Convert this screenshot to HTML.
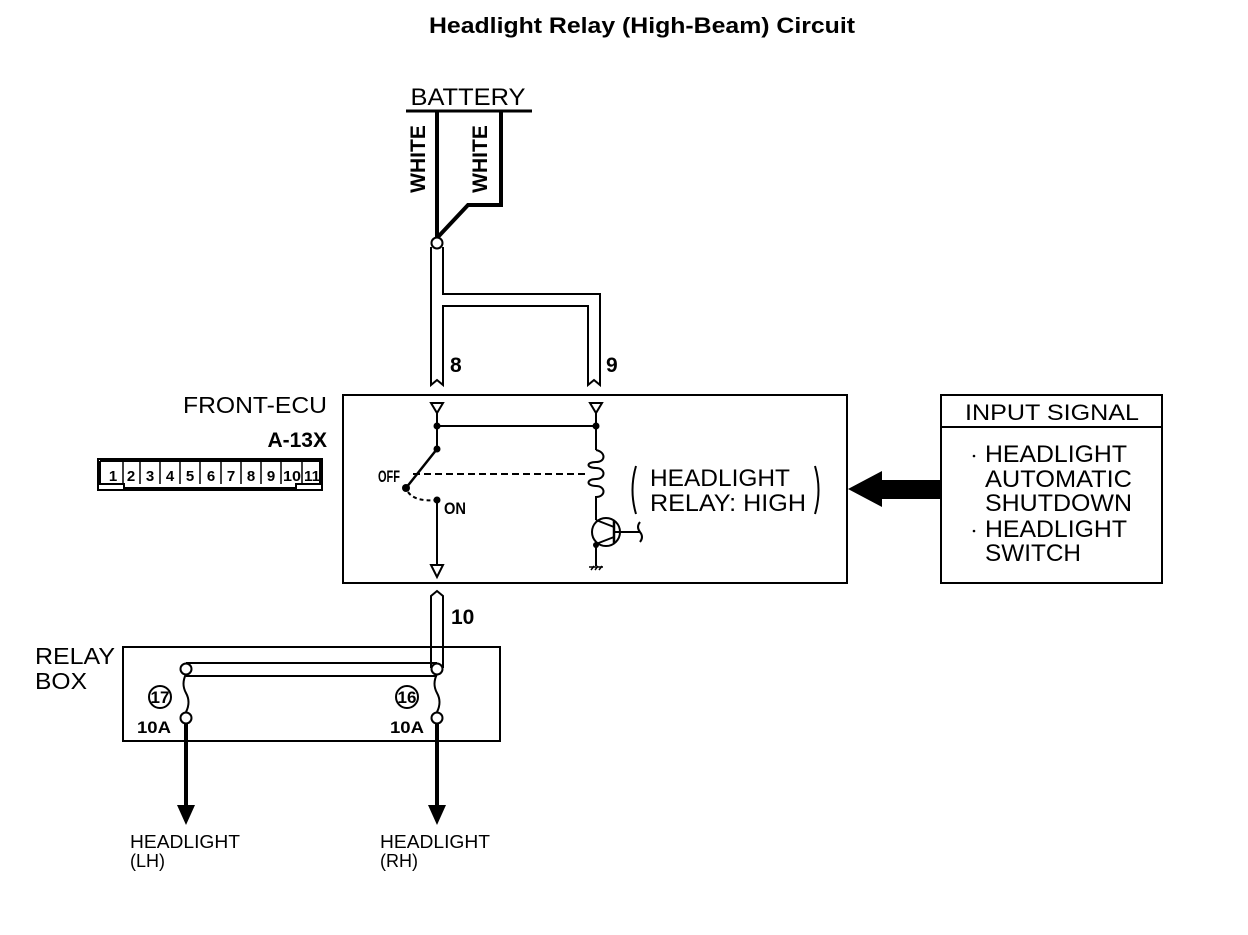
<!DOCTYPE html>
<html><head><style>
body{margin:0;background:#fff}
svg text{font-family:"Liberation Sans",sans-serif}
</style></head><body>
<svg width="1248" height="930" viewBox="0 0 1248 930" xmlns="http://www.w3.org/2000/svg">
<rect width="1248" height="930" fill="#fff"/>
<text x="642" y="33" text-anchor="middle" font-size="22" font-weight="bold" textLength="426" lengthAdjust="spacingAndGlyphs">Headlight Relay (High-Beam) Circuit</text>
<!-- battery -->
<text x="468" y="105" text-anchor="middle" font-size="24" textLength="115" lengthAdjust="spacingAndGlyphs">BATTERY</text>
<line x1="406" y1="111" x2="532" y2="111" stroke="#000" stroke-width="3"/>
<polyline points="437,111 437,240" fill="none" stroke="#000" stroke-width="4"/>
<polyline points="501,111 501,205 468,205 437,238" fill="none" stroke="#000" stroke-width="4"/>
<text transform="translate(425,159) rotate(-90)" text-anchor="middle" font-size="21" font-weight="bold">WHITE</text>
<text transform="translate(487,159) rotate(-90)" text-anchor="middle" font-size="21" font-weight="bold">WHITE</text>
<circle cx="437" cy="243" r="5.5" fill="#fff" stroke="#000" stroke-width="2"/>
<g fill="none" stroke="#000" stroke-width="2">
<polyline points="431,247 431,385 437,380 443,385 443,306 588,306 588,385 594,380 600,385 600,294 443,294 443,247"/>
<rect x="343" y="395" width="504" height="188"/>
<polygon points="431,403 443,403 437,413"/>
<polygon points="590,403 602,403 596,413"/>
<line x1="437" y1="413" x2="437" y2="449"/>
<line x1="596" y1="413" x2="596" y2="450"/>
<line x1="437" y1="426" x2="596" y2="426"/>
<line x1="437" y1="449" x2="406" y2="488" stroke-width="2.5"/>
<line x1="413" y1="474" x2="585" y2="474" stroke-dasharray="7,4"/>
<path d="M408,492 Q415,502 437,500" stroke-dasharray="4,3"/>
<line x1="437" y1="500" x2="437" y2="565"/>
<polygon points="431,565 443,565 437,577"/>
<path d="M596,450 C606,452 606,462 596,462 C586,462 586,468 596,468 C606,468 606,479 596,479 C586,479 586,486 596,486 C606,486 606,497 596,497 L596,520"/>
<circle cx="606" cy="532" r="14"/>
<line x1="614" y1="521" x2="614" y2="543" stroke-width="2.5"/>
<line x1="596" y1="520" x2="614" y2="527"/>
<line x1="614" y1="537" x2="596" y2="544"/>
<line x1="596" y1="544" x2="596" y2="566"/>
<line x1="614" y1="532" x2="640" y2="532"/>
<path d="M640,522 Q636,527 640,532 Q644,537 640,542"/>
<path d="M636,466 Q629,490 636,514"/>
<path d="M815,466 Q822,490 815,514"/>
<rect x="941" y="395" width="221" height="188"/>
<line x1="941" y1="427" x2="1162" y2="427"/>
<polyline points="431,668 431,596 437,591 443,596 443,668"/>
<rect x="123" y="647" width="377" height="94"/>
<line x1="186" y1="663" x2="437" y2="663"/>
<line x1="186" y1="676" x2="437" y2="676"/>
<path d="M186,674 Q181,684 186,693 Q191,702 186,712"/>
<path d="M437,674 Q432,684 437,693 Q442,702 437,712"/>
<circle cx="160" cy="697" r="11"/>
<circle cx="407" cy="697" r="11"/>
<rect x="98" y="459" width="224" height="31"/>
<polyline points="100,461 100,484 124,484 124,488 296,488 296,484 320,484 320,461 100,461"/>
</g>
<g fill="#fff" stroke="#000" stroke-width="2">
<circle cx="186" cy="669" r="5.5"/><circle cx="437" cy="669" r="5.5"/>
<circle cx="186" cy="718" r="5.5"/><circle cx="437" cy="718" r="5.5"/>
</g>
<g fill="#000">
<circle cx="437" cy="426" r="3.5"/><circle cx="596" cy="426" r="3.5"/>
<circle cx="437" cy="449" r="3.5"/><circle cx="406" cy="488" r="4"/>
<circle cx="437" cy="500" r="3.5"/><circle cx="596" cy="545" r="3"/>
<polygon points="848,489 882,471 882,480 940,480 940,499 882,499 882,507"/>
<rect x="184" y="723" width="4" height="85"/>
<polygon points="177,805 195,805 186,825"/>
<rect x="435" y="723" width="4" height="85"/>
<polygon points="428,805 446,805 437,825"/>
</g>
<g stroke="#000" stroke-width="1.5"><line x1="589" y1="567" x2="603" y2="567"/><line x1="591" y1="570" x2="594" y2="566"/><line x1="595" y1="570" x2="598" y2="566"/><line x1="599" y1="570" x2="602" y2="566"/></g>
<g font-size="17" font-weight="bold">
<text x="378" y="482" textLength="22" lengthAdjust="spacingAndGlyphs">OFF</text><text x="444" y="514" textLength="22" lengthAdjust="spacingAndGlyphs">ON</text>
<text x="450" y="372" font-size="21">8</text><text x="606" y="372" font-size="21">9</text>
<text x="451" y="624" font-size="21">10</text>
<text x="137" y="733" textLength="34" lengthAdjust="spacingAndGlyphs">10A</text><text x="390" y="733" textLength="34" lengthAdjust="spacingAndGlyphs">10A</text>
<text x="160" y="703" text-anchor="middle">17</text><text x="407" y="703" text-anchor="middle">16</text>
</g>
<text x="650" y="486" font-size="24" textLength="140" lengthAdjust="spacingAndGlyphs">HEADLIGHT</text>
<text x="650" y="511" font-size="24" textLength="156" lengthAdjust="spacingAndGlyphs">RELAY: HIGH</text>
<text x="327" y="413" text-anchor="end" font-size="23" textLength="144" lengthAdjust="spacingAndGlyphs">FRONT-ECU</text>
<text x="327" y="447" text-anchor="end" font-size="21" font-weight="bold">A-13X</text>
<g font-size="15" font-weight="bold" text-anchor="middle">
<text x="113" y="481">1</text><text x="131" y="481">2</text><text x="150" y="481">3</text><text x="170" y="481">4</text><text x="190" y="481">5</text><text x="211" y="481">6</text><text x="231" y="481">7</text><text x="251" y="481">8</text><text x="271" y="481">9</text><text x="292" y="481" textLength="18" lengthAdjust="spacingAndGlyphs">10</text><text x="312" y="481" textLength="16" lengthAdjust="spacingAndGlyphs">11</text>
</g>
<g stroke="#000" stroke-width="1.5">
<line x1="123" y1="462" x2="123" y2="484"/><line x1="140" y1="462" x2="140" y2="484"/><line x1="160" y1="462" x2="160" y2="484"/><line x1="180" y1="462" x2="180" y2="484"/><line x1="200" y1="462" x2="200" y2="484"/><line x1="221" y1="462" x2="221" y2="484"/><line x1="241" y1="462" x2="241" y2="484"/><line x1="261" y1="462" x2="261" y2="484"/><line x1="281" y1="462" x2="281" y2="484"/><line x1="302" y1="462" x2="302" y2="484"/>
</g>
<text x="1052" y="420" text-anchor="middle" font-size="22" textLength="174" lengthAdjust="spacingAndGlyphs">INPUT SIGNAL</text>
<g font-size="24">
<text x="985" y="462" textLength="142" lengthAdjust="spacingAndGlyphs">HEADLIGHT</text><text x="985" y="487" textLength="147" lengthAdjust="spacingAndGlyphs">AUTOMATIC</text><text x="985" y="511" textLength="147" lengthAdjust="spacingAndGlyphs">SHUTDOWN</text><text x="985" y="537" textLength="142" lengthAdjust="spacingAndGlyphs">HEADLIGHT</text><text x="985" y="561" textLength="96" lengthAdjust="spacingAndGlyphs">SWITCH</text>
</g>
<circle cx="974" cy="456" r="1.3" fill="#000"/><circle cx="974" cy="531" r="1.3" fill="#000"/>
<text x="35" y="664" font-size="23" textLength="80" lengthAdjust="spacingAndGlyphs">RELAY</text><text x="35" y="689" font-size="23" textLength="52" lengthAdjust="spacingAndGlyphs">BOX</text>
<g font-size="18"><text x="130" y="848" textLength="110" lengthAdjust="spacingAndGlyphs">HEADLIGHT</text><text x="130" y="867">(LH)</text><text x="380" y="848" textLength="110" lengthAdjust="spacingAndGlyphs">HEADLIGHT</text><text x="380" y="867">(RH)</text></g>
</svg>
</body></html>
